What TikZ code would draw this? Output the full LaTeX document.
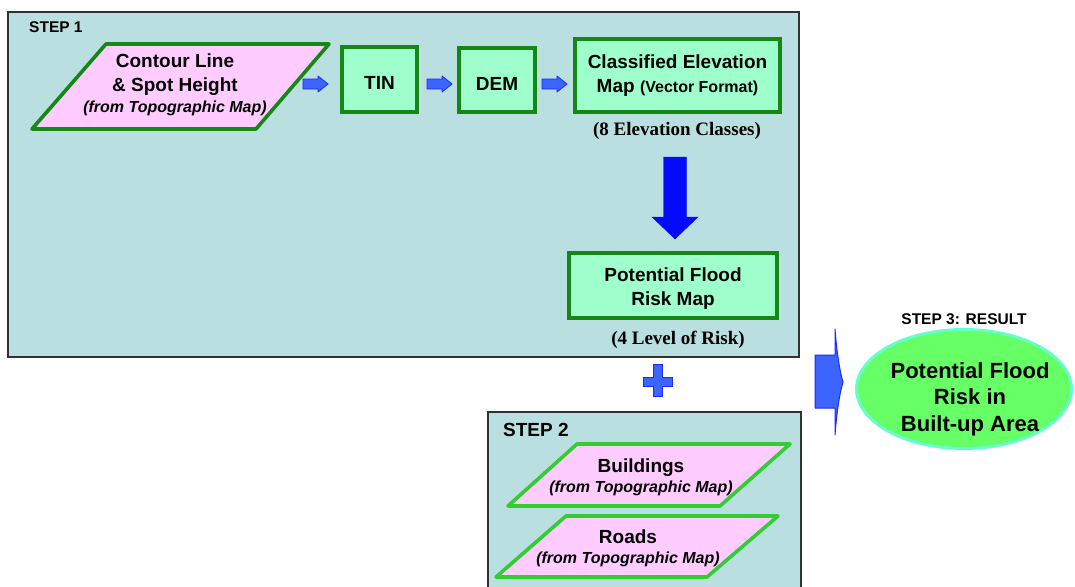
\documentclass[tikz,border=0pt]{standalone}
\usepackage{fontspec}
\setmainfont{Liberation Sans}
\newfontfamily\serifbold{Liberation Serif}
\usetikzlibrary{shapes.geometric}

\definecolor{panel}{RGB}{186,223,225}
\definecolor{paneledge}{RGB}{50,50,50}
\definecolor{pinkfill}{RGB}{255,204,255}
\definecolor{mint}{RGB}{158,255,204}
\definecolor{darkgreen}{RGB}{20,135,20}
\definecolor{lightgreen}{RGB}{51,204,51}
\definecolor{arrowblue}{RGB}{60,100,255}
\definecolor{edgeblue}{RGB}{30,40,255}
\definecolor{bigblue}{RGB}{5,10,250}
\definecolor{resultfill}{RGB}{102,255,102}
\definecolor{resultedge}{RGB}{102,255,204}

\newcommand\mainsz{\fontsize{19}{24}\selectfont}
\newcommand\subsz{\fontsize{16}{19}\selectfont}
\newcommand\stepsz{\fontsize{15.5}{18}\selectfont}
\newcommand\notesz{\fontsize{19}{22}\selectfont}
\newcommand\resultsz{\fontsize{22}{26.5}\selectfont}

\tikzset{
  panelbox/.style={fill=panel, draw=paneledge, line width=1.3},
  mapbox/.style={draw=darkgreen, fill=mint, line width=3.6, align=center,
    font=\mainsz\bfseries, inner sep=0pt},
  inputshape/.style={draw=darkgreen, fill=pinkfill, line width=3.6, line join=round},
  layershape/.style={draw=lightgreen, fill=pinkfill, line width=3.6, line join=round},
  shapetext/.style={align=center, font=\mainsz\bfseries, inner sep=0pt},
  note/.style={font=\notesz\serifbold\bfseries, inner sep=0pt},
  steplabel/.style={font=\stepsz\bfseries, inner sep=0pt},
  rarrow/.pic={\filldraw[fill=arrowblue, draw=edgeblue, line width=0.8, line join=round]
    (0,-5) -- (15,-5) -- (15,-8) -- (25,0) -- (15,8) -- (15,5) -- (0,5) -- cycle;},
}

\begin{document}
\begin{tikzpicture}[x=1pt, y=-1pt]
\useasboundingbox (0,0) rectangle (1075,586);
\clip (0,0) rectangle (1075,586);

% Step 1 panel
\filldraw[panelbox] (8,12) rectangle (799,357);
\node[steplabel, anchor=west] (step1) at (29,27) {STEP 1};

% input layer: contour lines and spot heights
\filldraw[inputshape] (106,44) -- (329,44) -- (256,129) -- (32,129) -- cycle;
\node[shapetext] (contour) at (175,85)
  {Contour Line\\ \& Spot Height\\[-3pt] {\subsz\itshape (from Topographic Map)}};

% processing chain
\node[mapbox, minimum width=75, minimum height=65, text height=20, text depth=0]
  (tin) at (379.5,79.5) {TIN};
\node[mapbox, minimum width=76, minimum height=64, text height=20, text depth=0]
  (dem) at (497,80) {DEM};
\node[mapbox, minimum width=205, minimum height=73] (classified) at (677.5,75.5)
  {Classified Elevation\\ Map {\subsz (Vector Format)}};
\node[note] (classes) at (677,131) {(8 Elevation Classes)};

\pic at (303,84) {rarrow};
\pic at (427,84) {rarrow};
\pic at (542,84) {rarrow};

% reclassification into risk levels
\filldraw[fill=bigblue, draw=bigblue, line join=round]
  (663.5,157) -- (686.5,157) -- (686.5,217) -- (698,217) -- (675,239)
  -- (652,217) -- (663.5,217) -- cycle;

\node[mapbox, minimum width=208, minimum height=65] (floodmap) at (673,285.5) {};
\node[shapetext] (floodtext) at (673,288.5) {Potential Flood\\ Risk Map};
\node[note] (levels) at (678,340) {(4 Level of Risk)};

% overlay sign
\filldraw[fill=arrowblue, draw=edgeblue, line width=0.8]
  (653,364) -- (662,364) -- (662,377) -- (672,377) -- (672,386) -- (662,386)
  -- (662,396) -- (653,396) -- (653,386) -- (643,386) -- (643,377) -- (653,377) -- cycle;

% Step 2 panel
\filldraw[panelbox] (488,412) rectangle (801,600);
\node[steplabel, font=\mainsz\bfseries, anchor=west] (step2) at (503,430) {STEP 2};

\filldraw[layershape] (577,444) -- (790,444) -- (720,506) -- (508,506) -- cycle;
\node[shapetext] (buildings) at (641,477)
  {Buildings\\[-4pt] {\subsz\itshape (from Topographic Map)}};

\filldraw[layershape] (566,516) -- (778,516) -- (707,577) -- (496,577) -- cycle;
\node[shapetext] (roads) at (628,548)
  {Roads\\[-4pt] {\subsz\itshape (from Topographic Map)}};

% arrow to the result
\filldraw[fill=arrowblue, draw=edgeblue, line width=1, line join=round]
  (815,355) -- (835,355) -- (835,329)
  .. controls (837,355) and (840,372) .. (843,382)
  .. controls (840,392) and (837,409) .. (835,435)
  -- (835,408) -- (815,408) -- cycle;

% Step 3: result
\node[steplabel] (step3) at (964,319) {STEP 3: RESULT};
\node[ellipse, draw=resultedge, fill=resultfill, line width=3, inner sep=0pt,
  minimum width=215, minimum height=119] (result) at (964,389) {};
\node[align=center, font=\resultsz\bfseries, inner sep=0pt] (resulttext) at (970,399)
  {Potential Flood\\ Risk in\\ Built-up Area};
\end{tikzpicture}
\end{document}
